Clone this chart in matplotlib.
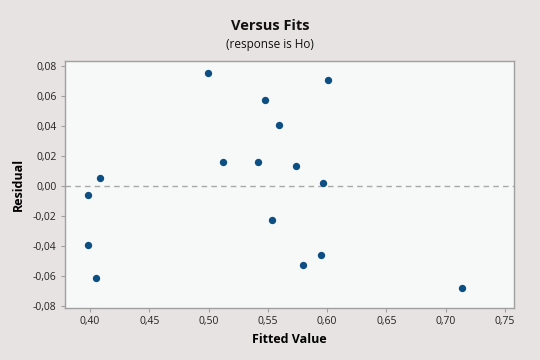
import matplotlib.pyplot as plt
from matplotlib.ticker import FuncFormatter

fitted = [0.3986, 0.3986, 0.4051, 0.4082, 0.4998, 0.5124, 0.5417, 0.5476,
          0.5537, 0.5594, 0.5734, 0.5796, 0.5948, 0.5962, 0.6008, 0.7134]
residual = [-0.0058, -0.0397, -0.0615, 0.0054, 0.0752, 0.0157, 0.0157, 0.0573,
            -0.0227, 0.0406, 0.0136, -0.0528, -0.0459, 0.0023, 0.0711, -0.0678]

x_ticks = [0.40, 0.45, 0.50, 0.55, 0.60, 0.65, 0.70, 0.75]
y_ticks = [-0.08, -0.06, -0.04, -0.02, 0.00, 0.02, 0.04, 0.06, 0.08]

plt.rcParams['font.family'] = ['Open Sans', 'DejaVu Sans']

fig = plt.figure(figsize=(5.4, 3.6), dpi=100, facecolor='#e7e3e3')
ax = fig.add_axes([0.1204, 0.1444, 0.8315, 0.6862])
ax.set_facecolor('#f7f8f8')

ax.axhline(0, color='#a8a8a8', linestyle=(0, (4, 3)), linewidth=1.0, zorder=1)
ax.scatter(fitted, residual, s=28, color='#0d4f82', zorder=3, linewidths=0)

ax.set_xlim(0.379, 0.7576)
ax.set_ylim(-0.0815, 0.0835)
ax.set_xticks(x_ticks)
ax.set_yticks(y_ticks)
comma = FuncFormatter(lambda v, pos: f'{v:.2f}'.replace('.', ',').replace('-0,00', '0,00'))
ax.xaxis.set_major_formatter(comma)
ax.yaxis.set_major_formatter(comma)
ax.tick_params(labelsize=7.5, colors='#222222', length=3, width=0.8, pad=3)
ax.tick_params(color='#a0a0a0')

for spine in ax.spines.values():
    spine.set_color('#a0a0a0')
    spine.set_linewidth(1.0)

ax.set_xlabel('Fitted Value', fontsize=9, fontweight='bold', labelpad=4)
ax.set_ylabel('Residual', fontsize=9, fontweight='bold', labelpad=6)

fig.text(0.5, 0.928, 'Versus Fits', ha='center', va='center',
         fontsize=10.5, fontweight='bold', color='#111111')
fig.text(0.5, 0.876, '(response is Ho)', ha='center', va='center',
         fontsize=8.5, color='#111111')

fig.savefig('out.png', dpi=100, facecolor=fig.get_facecolor())
